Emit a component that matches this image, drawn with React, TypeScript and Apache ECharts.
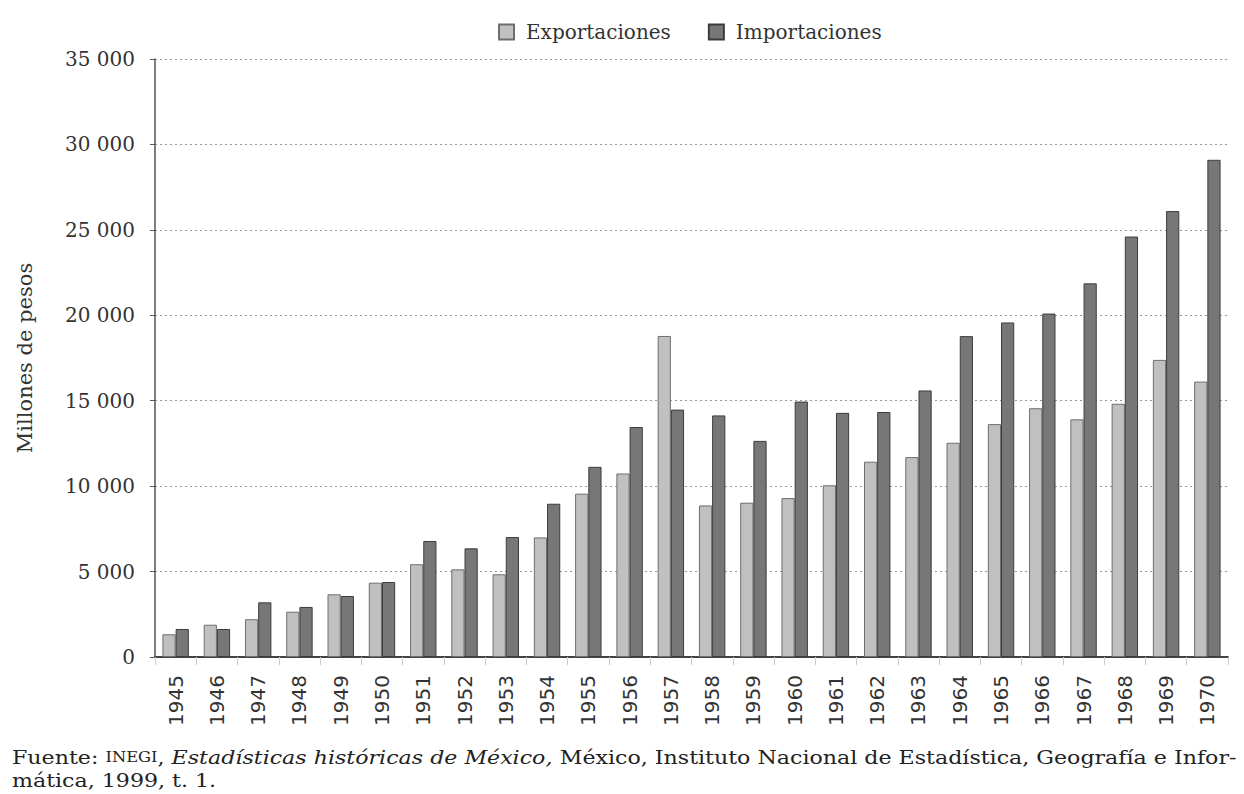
import React, { useEffect, useRef } from "react";
import * as echarts from "echarts";

const years = ["1945","1946","1947","1948","1949","1950","1951","1952","1953","1954","1955","1956","1957","1958","1959","1960","1961","1962","1963","1964","1965","1966","1967","1968","1969","1970"];
const exportaciones = [1330,1890,2210,2650,3670,4350,5430,5130,4840,7000,9560,10740,18790,8870,9030,9300,10050,11430,11700,12540,13630,14560,13910,14820,17390,16120];
const importaciones = [1640,1640,3200,2930,3570,4390,6790,6360,7020,8970,11130,13460,14480,14140,12650,14950,14290,14340,15600,18780,19580,20100,21870,24610,26100,29100];
const yTicks = { min: 0, max: 35000, interval: 5000 };

const serif = "'DejaVu Serif', 'Liberation Serif', serif";

export default function App() {
  const ref = useRef<HTMLDivElement>(null);
  useEffect(() => {
    if (!ref.current) return;
    const chart = echarts.init(ref.current, null, { renderer: "svg" });
    chart.setOption({
      animation: false,
      backgroundColor: "#ffffff",
      legend: {
        top: 17,
        left: 493,
        itemWidth: 15,
        itemHeight: 15,
        itemGap: 37,
        icon: "rect",
        textStyle: { fontFamily: serif, fontSize: 20, color: "#333", padding: [0, 0, 0, 7] },
        data: ["Exportaciones", "Importaciones"],
      },
      grid: { left: 155, right: 16, top: 59, bottom: 137 },
      xAxis: {
        type: "category",
        data: years,
        axisLine: { lineStyle: { color: "#444", width: 2 } },
        axisTick: { show: true, length: 8, lineStyle: { color: "#ccc" } },
        axisLabel: { rotate: 90, margin: 18, fontSize: 20, color: "#333", fontFamily: "'DejaVu Sans', sans-serif" },
      },
      yAxis: {
        type: "value",
        min: yTicks.min,
        max: yTicks.max,
        interval: yTicks.interval,
        name: "Millones de pesos",
        nameLocation: "middle",
        nameGap: 120,
        nameTextStyle: { fontFamily: serif, fontSize: 21, color: "#333" },
        axisLine: { show: true, lineStyle: { color: "#555", width: 1.5 } },
        axisTick: { show: true, length: 5, lineStyle: { color: "#555" } },
        axisLabel: {
          fontFamily: serif,
          fontSize: 20,
          color: "#333",
          margin: 20,
          formatter: (v: number) => (v >= 1000 ? Math.floor(v / 1000) + " " + String(v % 1000).padStart(3, "0") : String(v)),
        },
        splitLine: { show: true, lineStyle: { color: "#999", type: [2, 3], width: 1 } },
      },
      series: [
        {
          name: "Exportaciones",
          type: "bar",
          data: exportaciones,
          barGap: "0%",
          barCategoryGap: "36%",
          itemStyle: { color: "#c0c0c0", borderColor: "#6e6e6e", borderWidth: 1 },
        },
        {
          name: "Importaciones",
          type: "bar",
          data: importaciones,
          barGap: "0%",
          barCategoryGap: "36%",
          itemStyle: { color: "#777777", borderColor: "#3c3c3c", borderWidth: 1 },
        },
      ],
      graphic: [
        {
          type: "text",
          x: 12,
          y: 746,
          scaleX: 1.165,
          style: {
            text: "{n|Fuente: }{s|INEGI}{n|, }{i|Estadísticas históricas de México,}{n| México, Instituto Nacional de Estadística, Geografía e Infor-}\n{n|mática, 1999, t. 1.}",
            fill: "#222",
            rich: {
              n: { fontFamily: serif, fontSize: 19, fill: "#222", lineHeight: 23 },
              s: { fontFamily: serif, fontSize: 14, fill: "#222", lineHeight: 23 },
              i: { fontFamily: serif, fontSize: 19, fontStyle: "italic", fill: "#222", lineHeight: 23 },
            },
          },
        },
      ],
    });
    return () => chart.dispose();
  }, []);
  return <div ref={ref} style={{ position: "fixed", left: 0, top: 0, width: 1244, height: 794 }} />;
}
